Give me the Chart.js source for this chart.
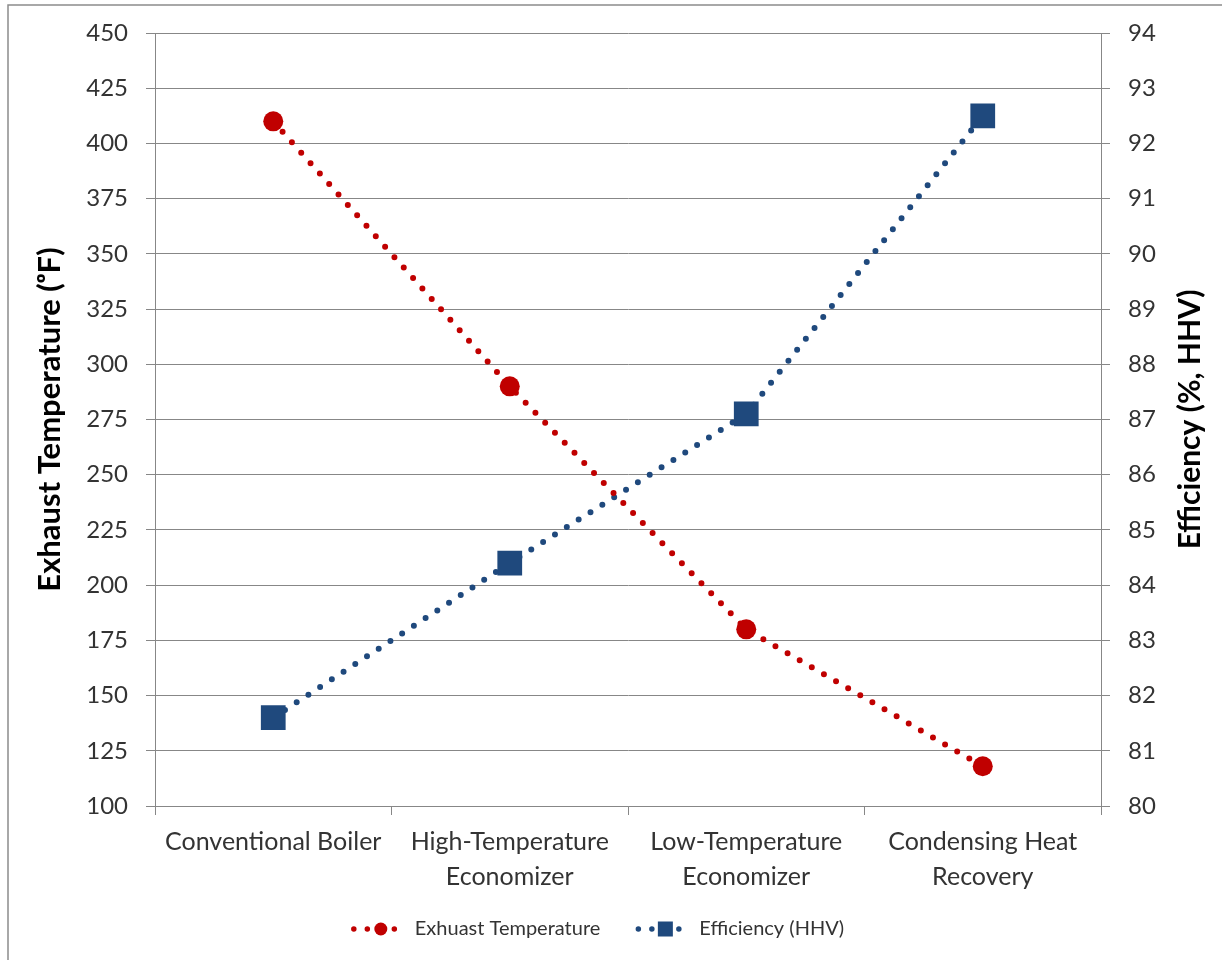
<!DOCTYPE html>
<html><head><meta charset="utf-8">
<script src="https://cdn.jsdelivr.net/npm/chart.js@4"></script>
<style>html,body{margin:0;padding:0;background:#fff}#wrap{position:relative;width:1222px;height:960px}</style>
</head><body><div id="wrap"><canvas id="c"></canvas></div>
<script>
const categories = [["Conventional Boiler"], ["High-Temperature", "Economizer"], ["Low-Temperature", "Economizer"], ["Condensing Heat", "Recovery"]];
const exhaustTemperature = [410, 290, 180, 118];
const efficiencyHHV = [81.6, 84.4, 87.1, 92.5];
const seriesLabels = ["Exhuast Temperature", "Efficiency (HHV)"];
const leftAxisTitle = "Exhaust Temperature (\u1D52F)";
const rightAxisTitle = "Efficiency (%, HHV)";
const leftRange = [100, 450, 25];
const rightRange = [80, 94, 1];

const RED = '#C00000', BLUE = '#1F497D', GRID = '#878787', TXT = '#333333';
const FONT = 'Lato, "Open Sans", sans-serif';

const extras = {
  id: 'extras',
  beforeDraw(chart) {
    const ctx = chart.ctx;
    ctx.save();
    ctx.fillStyle = '#fff';
    ctx.fillRect(0, 0, chart.width, chart.height);
    ctx.strokeStyle = '#8c8c8c';
    ctx.lineWidth = 1.5;
    ctx.strokeRect(8, 5, chart.width + 20, chart.height + 20);
    ctx.restore();
  },
  afterDraw(chart) {
    const ctx = chart.ctx;
    const ca = chart.chartArea;
    // right axis title (reads bottom to top)
    ctx.save();
    ctx.translate(chart.scales.y1.right - 32, (ca.top + ca.bottom) / 2);
    ctx.rotate(-Math.PI / 2);
    ctx.font = 'bold 30px ' + FONT;
    ctx.fillStyle = '#000';
    ctx.textAlign = 'center';
    ctx.textBaseline = 'middle';
    ctx.fillText(rightAxisTitle, 0, 0);
    ctx.restore();
    // legend
    ctx.save();
    ctx.font = '20px ' + FONT;
    const sample = 54, gapText = 7, gapItem = 38, ly = 929;
    const items = chart.data.datasets.map(ds => ({ds, w: sample + gapText + ctx.measureText(ds.label).width}));
    const total = items.reduce((a, it) => a + it.w, 0) + gapItem * (items.length - 1);
    let x = 596 - total / 2;
    items.forEach(it => {
      const ds = it.ds;
      ctx.strokeStyle = ds.borderColor;
      ctx.lineWidth = 5.5;
      ctx.lineCap = 'round';
      ctx.setLineDash([0, 13.5]);
      ctx.beginPath();
      ctx.moveTo(x + 3, ly);
      ctx.lineTo(x + 3 + sample, ly);
      ctx.stroke();
      ctx.setLineDash([]);
      ctx.fillStyle = ds.borderColor;
      const mx = x + 3 + sample / 2;
      if (ds.pointStyle === 'rect') {
        ctx.fillRect(mx - 7.5, ly - 7.5, 15, 15);
      } else {
        ctx.beginPath();
        ctx.arc(mx, ly, 6.5, 0, Math.PI * 2);
        ctx.fill();
      }
      ctx.fillStyle = TXT;
      ctx.textAlign = 'left';
      ctx.textBaseline = 'middle';
      ctx.fillText(ds.label, x + sample + gapText + 3, ly);
      x += it.w + gapItem;
    });
    ctx.restore();
  }
};

new Chart(document.getElementById('c'), {
  type: 'line',
  data: {
    labels: categories,
    datasets: [
      {
        label: seriesLabels[0], data: exhaustTemperature, yAxisID: 'y',
        borderColor: RED, backgroundColor: RED, borderWidth: 6,
        borderDash: [0, 14], borderCapStyle: 'round',
        pointStyle: 'circle', pointRadius: 10, pointBorderWidth: 0,
        pointBackgroundColor: RED, tension: 0
      },
      {
        label: seriesLabels[1], data: efficiencyHHV, yAxisID: 'y1',
        borderColor: BLUE, backgroundColor: BLUE, borderWidth: 6,
        borderDash: [0, 14], borderCapStyle: 'round',
        pointStyle: 'rect', pointRadius: 17.5, pointBorderWidth: 0,
        pointBackgroundColor: BLUE, tension: 0
      }
    ]
  },
  options: {
    responsive: true, maintainAspectRatio: false, animation: false,
    layout: { padding: { top: 33, left: 0, right: 0, bottom: 0 } },
    plugins: { legend: { display: false }, tooltip: { enabled: false } },
    scales: {
      x: {
        type: 'category', offset: true,
        grid: { offset: true, drawOnChartArea: false, drawTicks: true, tickLength: 9, color: GRID },
        border: { color: GRID, width: 1 },
        ticks: { color: TXT, font: { family: FONT, size: 25, lineHeight: 1.4 }, padding: 9, maxRotation: 0, autoSkip: false },
        afterFit(s) { s.height = 154; }
      },
      y: {
        position: 'left', min: leftRange[0], max: leftRange[1],
        grid: { color: GRID, tickLength: 9, drawTicks: true },
        border: { color: GRID, width: 1 },
        ticks: { stepSize: leftRange[2], color: TXT, font: { family: FONT, size: 24 }, padding: 18 },
        title: { display: true, text: leftAxisTitle, color: '#000', font: { family: FONT, size: 31, weight: 'bold' }, padding: { top: 31, bottom: 0 } },
        afterFit(s) { s.width = 155; }
      },
      y1: {
        position: 'right', min: rightRange[0], max: rightRange[1],
        grid: { drawOnChartArea: false, color: GRID, tickLength: 9, drawTicks: true },
        border: { color: GRID, width: 1 },
        ticks: { stepSize: rightRange[2], color: TXT, font: { family: FONT, size: 24 }, padding: 18 },
        afterFit(s) { s.width = 121; }
      }
    }
  },
  plugins: [extras]
});
</script></body></html>
